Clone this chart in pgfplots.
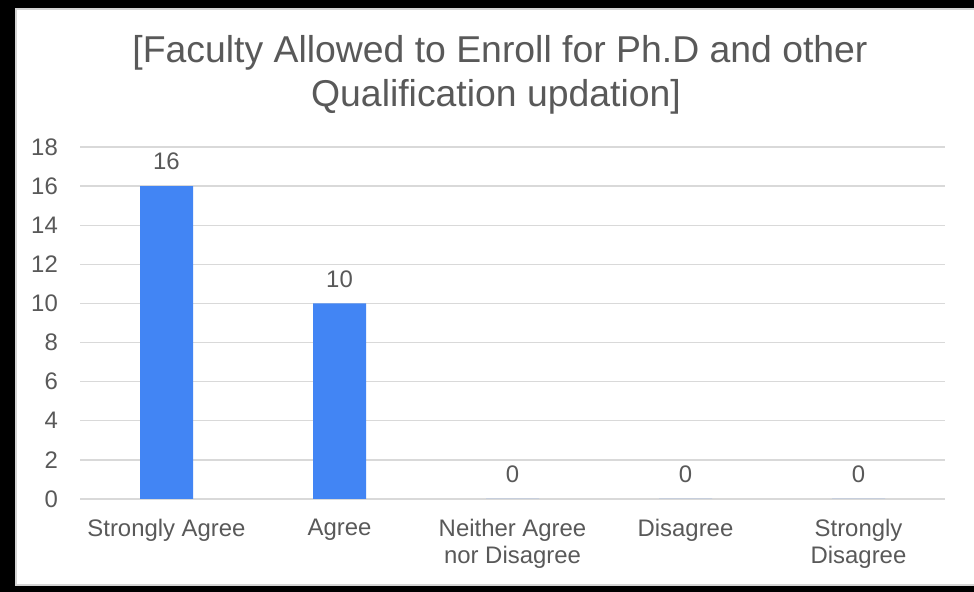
\documentclass[border=0pt]{standalone}
\usepackage{pgfplots}
\pgfplotsset{compat=1.18}
\usepackage{fontspec}
\setmainfont{Liberation Sans}

\definecolor{barblue}{HTML}{4285F4}
\definecolor{txtgray}{HTML}{595959}
\definecolor{gridgray}{HTML}{D9D9D9}
\definecolor{edgegray}{HTML}{D4D4D4}

\begin{document}
\begin{tikzpicture}[x=1bp,y=1bp]
  % frame: black outer, thin grey inner edge, white card
  \useasboundingbox (0,0) rectangle (974,592);
  \fill[black] (0,0) rectangle (974,592);
  \fill[edgegray] (15,6) rectangle (974,584);
  \fill[white] (17,8) rectangle (974,582);

  \node[anchor=base, text=txtgray, font=\fontsize{37.5}{44}\selectfont]
    at (500,529) {[Faculty Allowed to Enroll for Ph.D and other};
  \node[anchor=base, text=txtgray, font=\fontsize{37.5}{44}\selectfont]
    at (496,485) {Qualification updation]};

  \begin{axis}[
      at={(80bp,93bp)}, anchor=south west,
      scale only axis,
      width=865bp, height=352bp,
      ybar, bar width=53bp,
      xmin=-0.5, xmax=4.5,
      ymin=0, ymax=18,
      xtick={0,1,2,3,4},
      xticklabels={Strongly Agree, Agree, Neither Agree\\nor Disagree, Disagree, Strongly\\Disagree},
      ytick={0,2,...,18},
      axis line style={draw=none},
      major tick length=0pt,
      ymajorgrids,
      grid style={gridgray, line width=1.3bp},
      xticklabel style={anchor=north, align=center, inner sep=0pt, yshift=-20bp,
        text=txtgray, font=\fontsize{24}{27}\selectfont},
      yticklabel style={anchor=east, inner sep=0pt, xshift=-22bp,
        text=txtgray, font=\fontsize{24}{26}\selectfont},
      /pgf/number format/assume math mode=true,
      nodes near coords,
      every node near coord/.append style={anchor=south, inner sep=0pt, yshift=16bp,
        text=txtgray, font=\fontsize{24}{26}\selectfont},
    ]
    \addplot[fill=barblue, draw=none] coordinates {
      (0,16) (1,10) (2,0) (3,0) (4,0)
    };
  \end{axis}
\end{tikzpicture}
\end{document}
